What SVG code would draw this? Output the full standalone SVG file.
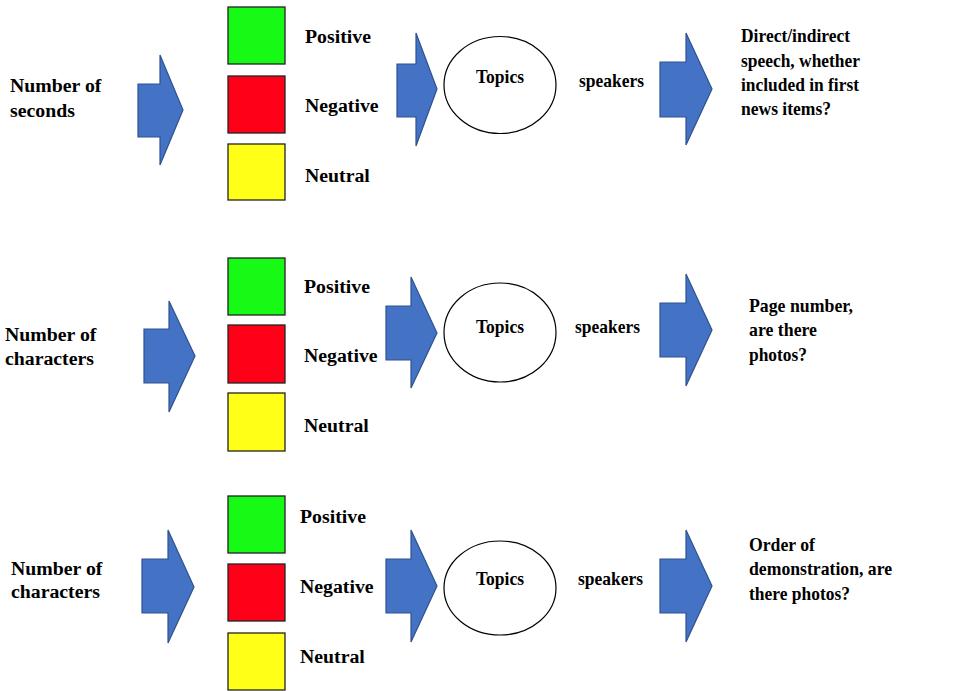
<svg xmlns="http://www.w3.org/2000/svg" width="974" height="691" viewBox="0 0 974 691">
<style>
.arr{fill:#4472C4;stroke:#2F528F;stroke-width:1.2;stroke-linejoin:miter}
.pos{fill:#16FA16;stroke:#222;stroke-width:1.3}
.neg{fill:#FF0019;stroke:#222;stroke-width:1.3}
.neu{fill:#FFFF17;stroke:#222;stroke-width:1.3}
.ell{fill:#fff;stroke:#000;stroke-width:1.2}
text{font-family:"Liberation Serif","Times New Roman",serif;font-weight:bold;fill:#000}
.big{font-size:19.8px}
.sm{font-size:19.5px}
</style>
<rect width="974" height="691" fill="#fff"/>
<g id="connectors">
<polygon class="arr" points="138,84 160,84 160,55 183,110 160,165 160,137 138,137"/>
<polygon class="arr" points="397,64 416,64 416,33 437,89 416,146 416,117 397,117"/>
<polygon class="arr" points="660,62 686,62 686,33 712,89 686,145 686,117 660,117"/>
<polygon class="arr" points="144,329 169,329 169,301 195,356 169,412 169,383 144,383"/>
<polygon class="arr" points="386,306 411,306 411,277 437,333 411,388 411,360 386,360"/>
<polygon class="arr" points="660,303 686,303 686,274 712,330 686,386 686,357 660,357"/>
<polygon class="arr" points="142,559 168,559 168,530 194,587 168,643 168,613 142,613"/>
<polygon class="arr" points="386,559 411,559 411,530 437,586 411,642 411,613 386,613"/>
<polygon class="arr" points="660,559 686,559 686,530 712,586 686,642 686,613 660,613"/>
</g>
<g id="row1-input"><text class="big" x="10" y="92">Number of</text><text class="big" x="10" y="117">seconds</text></g>
<g id="row1-positive"><rect class="pos" x="228" y="7" width="57" height="57"/><text class="big" x="305" y="43">Positive</text></g>
<g id="row1-negative"><rect class="neg" x="228" y="76" width="57" height="57"/><text class="big" x="305" y="112">Negative</text></g>
<g id="row1-neutral"><rect class="neu" x="228" y="144" width="57" height="56"/><text class="big" x="305" y="182">Neutral</text></g>
<g id="row1-topics"><ellipse class="ell" cx="500" cy="85" rx="56" ry="48.5"/><text class="sm" x="476" y="83" textLength="48" lengthAdjust="spacingAndGlyphs">Topics</text></g>
<g id="row1-speakers"><text class="sm" x="579" y="87" textLength="65" lengthAdjust="spacingAndGlyphs">speakers</text></g>
<g id="row1-output"><text class="sm" x="741" y="42" textLength="109" lengthAdjust="spacingAndGlyphs">Direct/indirect</text><text class="sm" x="741" y="67" textLength="119" lengthAdjust="spacingAndGlyphs">speech, whether</text><text class="sm" x="741" y="91" textLength="118" lengthAdjust="spacingAndGlyphs">included in first</text><text class="sm" x="741" y="115" textLength="90" lengthAdjust="spacingAndGlyphs">news items?</text></g>

<g id="row2-input"><text class="big" x="5" y="341">Number of</text><text class="big" x="5" y="365">characters</text></g>
<g id="row2-positive"><rect class="pos" x="228" y="258" width="57" height="57"/><text class="big" x="304" y="293">Positive</text></g>
<g id="row2-negative"><rect class="neg" x="228" y="325" width="57" height="58"/><text class="big" x="304" y="362">Negative</text></g>
<g id="row2-neutral"><rect class="neu" x="228" y="393" width="57" height="58"/><text class="big" x="304" y="432">Neutral</text></g>
<g id="row2-topics"><ellipse class="ell" cx="500" cy="332.5" rx="56" ry="49.5"/><text class="sm" x="476" y="333" textLength="48" lengthAdjust="spacingAndGlyphs">Topics</text></g>
<g id="row2-speakers"><text class="sm" x="575" y="333" textLength="65" lengthAdjust="spacingAndGlyphs">speakers</text></g>
<g id="row2-output"><text class="sm" x="749" y="312" textLength="104" lengthAdjust="spacingAndGlyphs">Page number,</text><text class="sm" x="749" y="336" textLength="68" lengthAdjust="spacingAndGlyphs">are there</text><text class="sm" x="749" y="361" textLength="58" lengthAdjust="spacingAndGlyphs">photos?</text></g>

<g id="row3-input"><text class="big" x="11" y="575">Number of</text><text class="big" x="11" y="598">characters</text></g>
<g id="row3-positive"><rect class="pos" x="228" y="496" width="57" height="57"/><text class="big" x="300" y="523">Positive</text></g>
<g id="row3-negative"><rect class="neg" x="228" y="564" width="57" height="57"/><text class="big" x="300" y="593">Negative</text></g>
<g id="row3-neutral"><rect class="neu" x="228" y="633" width="57" height="57"/><text class="big" x="300" y="663">Neutral</text></g>
<g id="row3-topics"><ellipse class="ell" cx="500" cy="588" rx="56" ry="47"/><text class="sm" x="476" y="585" textLength="48" lengthAdjust="spacingAndGlyphs">Topics</text></g>
<g id="row3-speakers"><text class="sm" x="578" y="585" textLength="65" lengthAdjust="spacingAndGlyphs">speakers</text></g>
<g id="row3-output"><text class="sm" x="749" y="551" textLength="66" lengthAdjust="spacingAndGlyphs">Order of</text><text class="sm" x="749" y="575" textLength="143" lengthAdjust="spacingAndGlyphs">demonstration, are</text><text class="sm" x="749" y="600" textLength="101" lengthAdjust="spacingAndGlyphs">there photos?</text></g>
</svg>
